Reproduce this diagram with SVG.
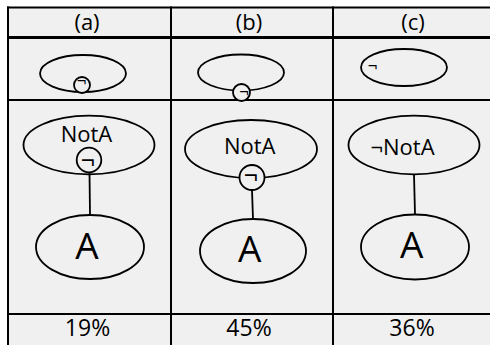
<svg xmlns="http://www.w3.org/2000/svg" width="490" height="345" viewBox="0 0 490 345">
<style>
.t{font-family:"Open Sans","Liberation Sans",sans-serif;fill:#000;text-anchor:middle}
.e{fill:none;stroke:#000;stroke-width:1.8}
.g{stroke:#000;fill:none}
.c{stroke:#000;stroke-width:1.8}
</style>
<rect x="0" y="0" width="490" height="345" fill="#fff"/>
<rect x="8" y="7" width="482" height="338" fill="#f0f0f0"/>
<g id="grid" class="g">
<line x1="7" y1="7.5" x2="490" y2="7.5" stroke-width="2"/>
<line x1="7" y1="37.5" x2="490" y2="37.5" stroke-width="3"/>
<line x1="7" y1="100" x2="490" y2="100" stroke-width="2"/>
<line x1="7" y1="314" x2="490" y2="314" stroke-width="2"/>
<line x1="8" y1="6.5" x2="8" y2="345" stroke-width="2"/>
<line x1="171" y1="6.5" x2="171" y2="345" stroke-width="2"/>
<line x1="333" y1="6.5" x2="333" y2="345" stroke-width="2"/>
</g>
<g id="headers">
<text class="t" x="87" y="30" font-size="22">(a)</text>
<text class="t" x="249" y="30" font-size="22">(b)</text>
<text class="t" x="413" y="30" font-size="22">(c)</text>
</g>
<g id="a-small">
<ellipse class="e" cx="83" cy="73.5" rx="43" ry="18.5"/>
<circle class="e" cx="82" cy="85" r="8" style="fill:#f0f0f0"/>
<text class="t" x="81.6" y="86" font-size="17">¬</text>
</g>
<g id="b-small">
<ellipse class="e" cx="241" cy="72.5" rx="43" ry="18"/>
<circle class="e" cx="241.5" cy="92.5" r="8.5" style="fill:#f0f0f0"/>
<text class="t" x="244" y="96.5" font-size="17">¬</text>
</g>
<g id="c-small">
<ellipse class="e" cx="404" cy="67.5" rx="43" ry="18.5"/>
<text class="t" x="372.5" y="71" font-size="17">¬</text>
</g>
<g id="connectors">
<line class="c" x1="89.5" y1="172.3" x2="90" y2="215"/>
<line class="c" x1="252" y1="190" x2="253" y2="219"/>
<line class="c" x1="414" y1="174.3" x2="415" y2="214.3"/>
</g>
<g id="a-notA">
<ellipse class="e" cx="89" cy="145" rx="65.5" ry="29.3"/>
<text class="t" x="86.5" y="141.7" font-size="22">NotA</text>
<circle class="e" cx="89" cy="160" r="12.3" style="fill:#f0f0f0"/>
<text class="t" x="87.8" y="169" font-size="25">¬</text>
</g>
<g id="a-A">
<ellipse class="e" cx="90" cy="247" rx="54" ry="32"/>
<text class="t" x="87" y="259" font-size="37">A</text>
</g>
<g id="b-notA">
<ellipse class="e" cx="251" cy="149" rx="66" ry="29"/>
<text class="t" x="249.7" y="154.3" font-size="22">NotA</text>
<circle class="e" cx="252" cy="177.5" r="12.5" style="fill:#f0f0f0"/>
<text class="t" x="250.8" y="184" font-size="25">¬</text>
</g>
<g id="b-A">
<ellipse class="e" cx="253" cy="251" rx="53" ry="32"/>
<text class="t" x="249.7" y="261.7" font-size="37">A</text>
</g>
<g id="c-notA">
<ellipse class="e" cx="414" cy="145" rx="65.5" ry="29.3"/>
<text class="t" x="402.5" y="155" font-size="22">¬NotA</text>
</g>
<g id="c-A">
<ellipse class="e" cx="415" cy="247" rx="54" ry="32.5"/>
<text class="t" x="411.7" y="258.3" font-size="37">A</text>
</g>
<g id="percents">
<text class="t" x="87.5" y="335.7" font-size="23">19%</text>
<text class="t" x="249" y="335.7" font-size="23">45%</text>
<text class="t" x="412" y="335.7" font-size="23">36%</text>
</g>
</svg>
